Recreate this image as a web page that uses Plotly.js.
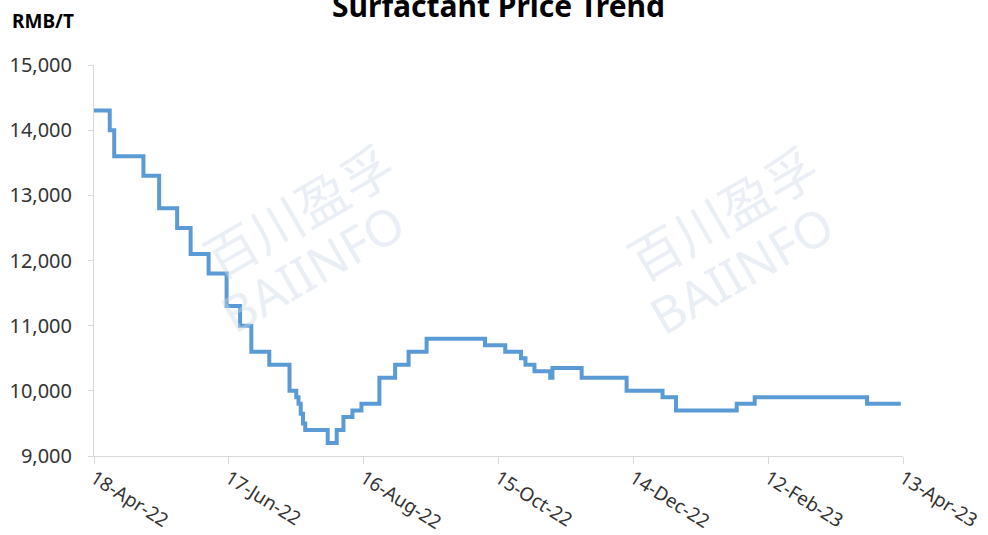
<!DOCTYPE html>
<html>
<head>
<meta charset="utf-8">
<script src="https://cdn.plot.ly/plotly-3.0.1.min.js"></script>
<style>
html,body{margin:0;padding:0;background:#fff;}
#chart{width:988px;height:535px;}
</style>
</head>
<body>
<div id="chart"></div>
<script>
// Step-change dates and the price (RMB/T) in effect from each date
const dates = [
  '2022-04-18','2022-04-25','2022-04-27','2022-05-10','2022-05-17','2022-05-25',
  '2022-05-31','2022-06-08','2022-06-16','2022-06-22','2022-06-27','2022-07-05',
  '2022-07-14','2022-07-17','2022-07-18','2022-07-19','2022-07-20','2022-07-21',
  '2022-07-31','2022-08-04','2022-08-07','2022-08-11','2022-08-15','2022-08-23',
  '2022-08-30','2022-09-05','2022-09-13','2022-10-09','2022-10-18','2022-10-25',
  '2022-10-27','2022-10-31','2022-11-07','2022-11-08','2022-11-21','2022-12-11',
  '2022-12-27','2023-01-02','2023-01-29','2023-02-06','2023-03-28','2023-04-12'
];
const prices = [
  14300,14000,13600,13300,12800,12500,
  12100,11800,11300,11000,10600,10400,
  10000,9900,9800,9650,9500,9400,
  9200,9400,9600,9700,9800,10200,
  10400,10600,10800,10700,10600,10500,
  10400,10300,10200,10350,10200,10000,
  9900,9700,9800,9900,9800,9800
];
const xTickStart = '2022-04-18';
const xRange = ['2022-04-18','2023-04-13'];
const yRange = [9000, 15000];

const trace = {
  x: dates, y: prices, type: 'scatter', mode: 'lines',
  line: {color: '#5b9bd5', width: 4, shape: 'hv'},
  hoverinfo: 'x+y'
};

const wmFont = {family: 'Noto Sans CJK SC, Noto Sans', size: 52, color: 'rgba(205,218,232,0.42)'};
const wmFont2 = {family: 'Noto Sans, sans-serif', size: 50, color: 'rgba(205,218,232,0.42)'};

const layout = {
  width: 988, height: 535,
  margin: {l: 94, r: 85, t: 65, b: 79},
  paper_bgcolor: '#ffffff', plot_bgcolor: '#ffffff',
  showlegend: false,
  title: {
    text: '<b>Surfactant Price Trend</b>',
    font: {family: 'Noto Sans, sans-serif', size: 30, color: '#000'},
    x: 0.5, xanchor: 'center', xref: 'paper',
    y: 0.987, yref: 'container', yanchor: 'middle'
  },
  xaxis: {
    type: 'date', range: xRange,
    tick0: xTickStart, dtick: 60 * 86400000,
    tickformat: '%d-%b-%y', tickangle: 32,
    showgrid: false, zeroline: false,
    showline: true, linecolor: '#d9d9d9', linewidth: 1,
    ticks: 'outside', ticklen: 7, tickcolor: '#d9d9d9',
    ticklabelstandoff: -4,
    tickfont: {family: 'Noto Sans, sans-serif', size: 19, color: '#333333'}
  },
  yaxis: {
    range: yRange, dtick: 1000, tickformat: ',d',
    showgrid: false, zeroline: false,
    showline: true, linecolor: '#d9d9d9', linewidth: 1,
    ticks: 'outside', ticklen: 5, tickcolor: '#d9d9d9',
    ticklabelstandoff: 12,
    tickfont: {family: 'Noto Sans, sans-serif', size: 20, color: '#333333'}
  },
  annotations: [
    {text: '<b>RMB/T</b>', xref: 'paper', yref: 'paper', x: -0.104, y: 1.1125,
     xanchor: 'left', yanchor: 'middle', showarrow: false,
     font: {family: 'Noto Sans, sans-serif', size: 19, color: '#000'}},
    {text: '百川盈孚', xref: 'paper', yref: 'paper', x: 0.252, y: 0.63, textangle: -30,
     xanchor: 'center', yanchor: 'middle', showarrow: false, font: wmFont},
    {text: 'BAIINFO', xref: 'paper', yref: 'paper', x: 0.27, y: 0.48, textangle: -30,
     xanchor: 'center', yanchor: 'middle', showarrow: false, font: wmFont2},
    {text: '百川盈孚', xref: 'paper', yref: 'paper', x: 0.776, y: 0.625, textangle: -30,
     xanchor: 'center', yanchor: 'middle', showarrow: false, font: wmFont},
    {text: 'BAIINFO', xref: 'paper', yref: 'paper', x: 0.80, y: 0.475, textangle: -30,
     xanchor: 'center', yanchor: 'middle', showarrow: false, font: wmFont2}
  ]
};

Plotly.newPlot('chart', [trace], layout, {displayModeBar: false, staticPlot: true});
</script>
</body>
</html>
